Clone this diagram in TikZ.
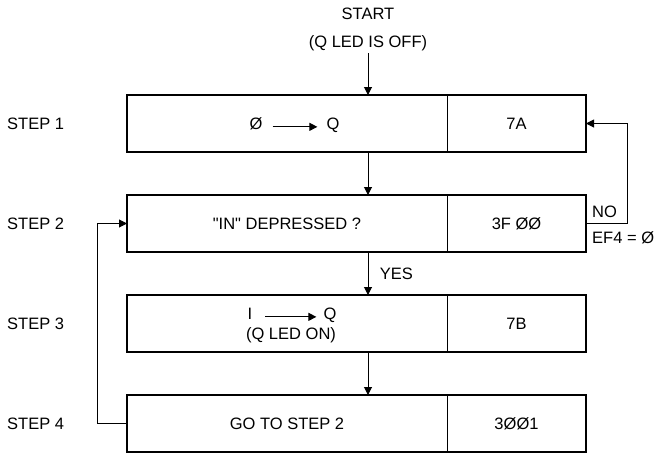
\documentclass[tikz,border=0pt]{standalone}
\usepackage{fontspec}
\setmainfont{Liberation Sans}[Ligatures=TeXOff]
\usepackage{tikz}
\usetikzlibrary{arrows.meta, positioning}
\tikzstyle{actcell} = [rectangle, minimum width=320pt, minimum height=57pt, inner sep=0pt, outer sep=0pt, text centered]
\tikzstyle{codecell} = [rectangle, minimum width=139pt, minimum height=57pt, inner sep=0pt, outer sep=0pt, text centered]
\tikzstyle{frame} = [line width=2.5pt]
\tikzstyle{divider} = [line width=1pt]
\tikzstyle{steptext} = [inner sep=0pt, anchor=west]
\tikzstyle{word} = [inner sep=0pt, anchor=base]
\tikzstyle{arrow} = [line width=1pt, -{Triangle[length=8pt, width=8pt]}]

\begin{document}
\begin{tikzpicture}[x=1pt, y=-1pt, node distance=43pt and 0pt, font=\fontsize{16.5}{19.5}\selectfont]
    \useasboundingbox (0,0) rectangle (664,455);

    % Start
    \node (start) [align=center, anchor=north, inner sep=2pt] at (368,6) {START\\[8.5pt](Q LED IS OFF)};

    % Steps
    \node (act1) [actcell, anchor=north west] at (127,95) {};
    \node (code1) [codecell, right=of act1] {7A};
    \node (act2) [actcell, below=of act1] {"IN" DEPRESSED ?};
    \node (code2) [codecell, right=of act2] {3F ØØ};
    \node (act3) [actcell, below=of act2] {};
    \node (code3) [codecell, right=of act3] {7B};
    \node (act4) [actcell, below=of act3] {GO TO STEP 2};
    \node (code4) [codecell, right=of act4] {3ØØ1};

    \foreach \i in {1,...,4} {
        \draw [frame] (act\i.north west) rectangle (code\i.south east);
        \draw [divider] (act\i.north east) -- (act\i.south east);
        \node (step\i) [steptext] at (7,0 |- act\i) {STEP \i};
    }

    % Cell texts
    \node (zero) [word] at ([xshift=-31pt, yshift=-6pt]act1.center) {Ø};
    \node (q1) [word] at ([xshift=46pt, yshift=-6pt]act1.center) {Q};
    \draw [arrow] ([xshift=10pt]zero.mid east) -- ([xshift=-9pt]q1.mid west);
    \node (one) [word] at ([xshift=-37pt, yshift=4pt]act3.center) {I};
    \node (q3) [word] at ([xshift=43pt, yshift=4pt]act3.center) {Q};
    \draw [arrow] ([xshift=13pt]one.mid east) -- ([xshift=-7pt]q3.mid west);
    \node (ledon) [word] at ([xshift=4pt, yshift=-16pt]act3.center) {(Q LED ON)};

    % Arrows
    \draw [arrow] (start) -- (start |- act1.north);
    \draw [arrow] (start |- act1.south) -- (start |- act2.north);
    \draw [arrow] (start |- act2.south) -- node[right=8pt] {YES} (start |- act3.north);
    \draw [arrow] (start |- act3.south) -- (start |- act4.north);
    \draw [arrow] (code2.east) -- ++(41,0) |- (code1.east);
    \draw [arrow] (act4.west) -- ++(-30,0) |- (act2.west);

    % Labels
    \node (no) [inner sep=0pt, anchor=south west] at ([xshift=6pt, yshift=6pt]code2.east) {NO};
    \node (ef4) [inner sep=0pt, anchor=north west] at ([xshift=6pt, yshift=-8pt]code2.east) {EF4 = Ø};
\end{tikzpicture}
\end{document}
